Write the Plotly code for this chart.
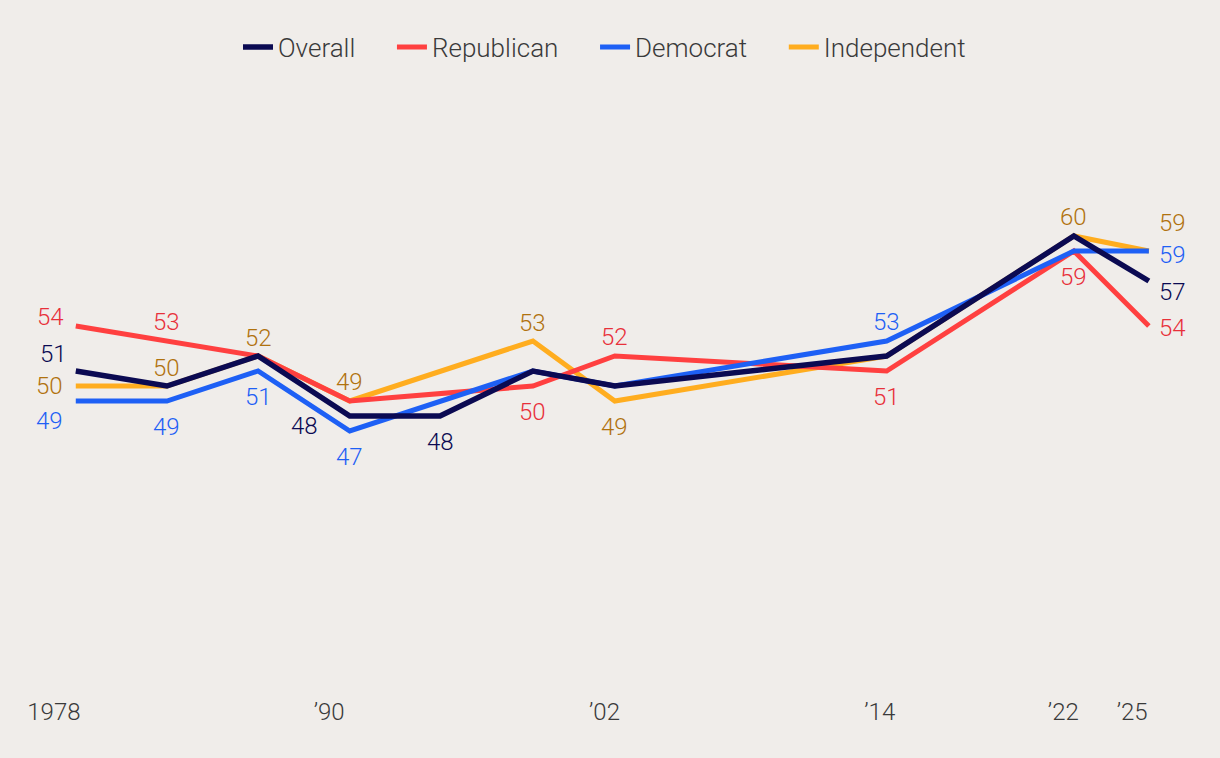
import plotly.graph_objects as go

# ---- data ----
dates = ["1978-12-15", "1982-12-05", "1986-11-25", "1990-11-24", "1994-10-31",
         "1998-11-18", "2002-06-14", "2014-04-20", "2022-06-18", "2025-09-24"]
overall = [51, 50, 52, 48, 48, 51, 50, 52, 60, 57]
republican = [54, 53, 52, 49, None, 50, 52, 51, 59, 54]
democrat = [49, 49, 51, 47, None, 51, 50, 53, 59, 59]
independent = [50, 50, 52, 49, None, 53, 49, 52, 60, 59]

tick_vals = ["1978-01-01", "1990-01-01", "2002-01-01", "2014-01-01", "2022-01-01", "2025-01-01"]
tick_text = ["1978", "\u201990", "\u201902", "\u201914", "\u201922", "\u201925"]

series = {
    "Overall": overall,
    "Republican": republican,
    "Democrat": democrat,
    "Independent": independent,
}
line_colors = {"Overall": "#0b0a52", "Republican": "#ff4040",
               "Democrat": "#1e60f5", "Independent": "#ffad1f"}
text_colors = {"Overall": "#0b0a52", "Republican": "#e8303a",
               "Democrat": "#1e60f5", "Independent": "#b0720e"}

# labelled points: (series, index, xshift, yshift)
labels = [
    ("Overall", 0, -22, 17), ("Republican", 0, -25, 9), ("Independent", 0, -26, 0),
    ("Democrat", 0, -26, -20),
    ("Republican", 1, 0, 19), ("Independent", 1, 0, 18), ("Democrat", 1, 0, -26),
    ("Independent", 2, 0, 18), ("Democrat", 2, 0, -26),
    ("Overall", 3, -45, -10), ("Independent", 3, 0, 19), ("Democrat", 3, 0, -26),
    ("Overall", 4, 0, -26),
    ("Independent", 5, 0, 18), ("Republican", 5, 0, -26),
    ("Republican", 6, 0, 19), ("Independent", 6, 0, -26),
    ("Democrat", 7, 0, 19), ("Republican", 7, 0, -26),
    ("Independent", 8, 0, 19), ("Republican", 8, 0, -26),
    ("Independent", 9, 24, 28), ("Democrat", 9, 24, -4), ("Overall", 9, 24, -11),
    ("Republican", 9, 24, -2),
]

FONT = "Roboto"
FSIZE = 24
PAD = "\u00a0" * 5
fig = go.Figure()
draw_order = ["Independent", "Republican", "Democrat", "Overall"]
rank = {"Overall": 1, "Republican": 2, "Democrat": 3, "Independent": 4}
for name in draw_order:
    fig.add_trace(go.Scatter(
        x=dates, y=series[name], mode="lines",
        name=name + (PAD if name != "Independent" else ""),
        connectgaps=True, legendrank=rank[name],
        line=dict(color=line_colors[name], width=5.5 if name == "Overall" else 5),
        hoverinfo="skip",
    ))

for name, i, xs, ys in labels:
    fig.add_annotation(x=dates[i], y=series[name][i], text=str(series[name][i]),
                       showarrow=False, xshift=xs, yshift=ys,
                       font=dict(family=FONT, size=FSIZE, weight=300,
                                 color=text_colors[name]))

bg = "#f0edea"
fig.update_layout(
    width=1220, height=758,
    paper_bgcolor=bg, plot_bgcolor=bg,
    margin=dict(l=31, r=42, t=86, b=72),
    showlegend=True,
    legend=dict(orientation="h", x=0.5, xanchor="center", y=1 - 47 / 758,
                yref="container", yanchor="middle",
                font=dict(family=FONT, size=26, weight=300, color="#3a3a3a"),
                bgcolor="rgba(0,0,0,0)", itemwidth=30),
    xaxis=dict(type="date", range=["1977-01-01", "2027-01-01"], showgrid=False,
               zeroline=False, showline=False, tickvals=tick_vals, ticktext=tick_text,
               ticks="", ticklabelstandoff=9,
               tickfont=dict(family=FONT, size=FSIZE, weight=300, color="#3a3a3a")),
    yaxis=dict(range=[30, 70], visible=False, showgrid=False, zeroline=False),
)

fig.write_html("out.html", config={"displayModeBar": False},
               post_script="document.body.style.margin='0';"
                           "document.body.style.background='%s';" % bg)
